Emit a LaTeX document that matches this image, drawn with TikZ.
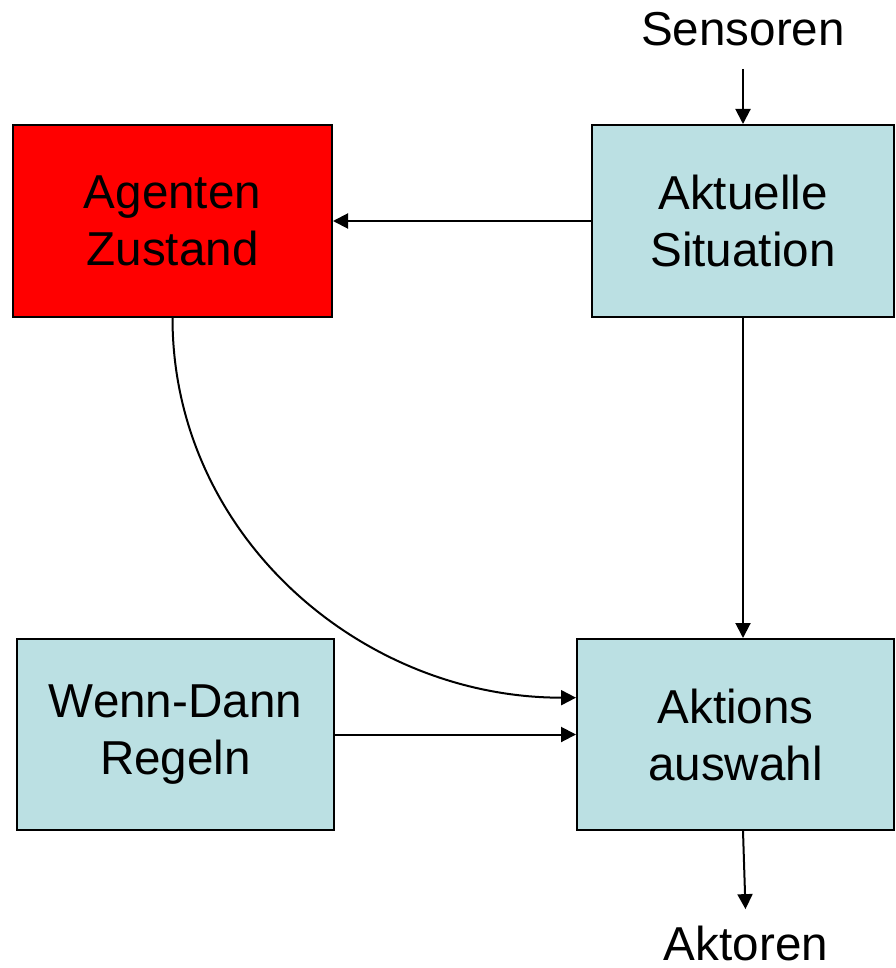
\documentclass[tikz,border=0pt]{standalone}
\usepackage{fontspec}
\setmainfont{Liberation Sans}
\usetikzlibrary{arrows.meta}

\definecolor{hellblau}{RGB}{187,224,227}
\tikzset{
  kasten/.style={draw, line width=1pt, inner sep=0pt, align=center,
    font=\fontsize{23.8}{28.5}\selectfont},
  pfeil/.style={-{Triangle[length=7.5pt,width=7.5pt]}, line width=1pt},
  beschr/.style={inner sep=0pt, font=\fontsize{23.8}{28.5}\selectfont}
}

\begin{document}
\begin{tikzpicture}[x=0.5pt, y=-0.5pt]
  \useasboundingbox (0,0) rectangle (895,968);
  % Kaesten
  \node[kasten, fill=red, minimum width=159.5pt, minimum height=96pt] (agent) at (172.5,221) {Agenten\\Zustand};
  \node[kasten, fill=hellblau, minimum width=151pt, minimum height=96pt] (situation) at (743,221) {Aktuelle\\Situation};
  \node[kasten, fill=hellblau, minimum width=158.5pt, minimum height=95.5pt] (regeln) at (175.5,734.5) {Wenn-Dann\\Regeln};
  \node[kasten, fill=hellblau, minimum width=158.5pt, minimum height=95.5pt] (aktion) at (735.5,734.5) {Aktions\\auswahl};
  % Ein- und Ausgaenge
  \node[beschr, anchor=base] (sensor) at (743,46) {Sensoren};
  \node[beschr, anchor=base] (aktor) at (746,960) {Aktoren};

  \draw[pfeil, shorten <=11pt] (sensor.south) -- (situation.north);
  \draw[pfeil] (situation.west) -- (agent.east);
  \draw[pfeil] (situation.south) -- (situation.south |- aktion.north);
  \draw[pfeil] (agent.south) to[out=-90, in=180] (aktion.167);
  \draw[pfeil] (regeln.east) -- (aktion.west);
  \draw[pfeil, shorten >=8pt] (situation.south |- aktion.south) -- (aktor.north);
\end{tikzpicture}
\end{document}
